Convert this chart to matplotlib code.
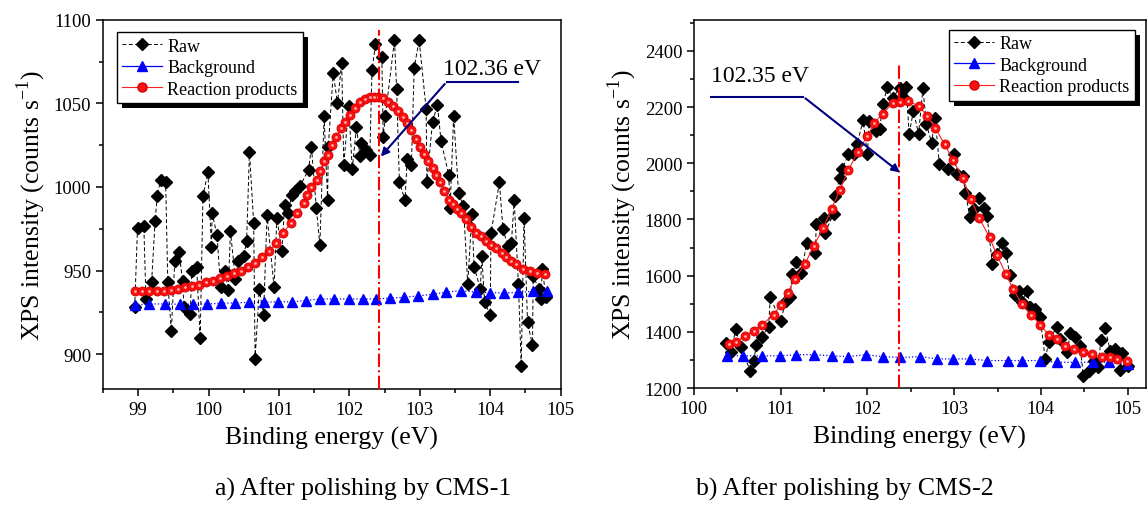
import numpy as np
from matplotlib import pyplot as plt
from matplotlib.patches import Rectangle
from matplotlib.transforms import IdentityTransform

plt.rcParams['font.family'] = ['Liberation Serif', 'DejaVu Serif']
plt.rcParams['mathtext.fontset'] = 'custom'
plt.rcParams['mathtext.rm'] = 'Liberation Serif'

# ---- a) CMS-1 ----
raw1_x = [98.95, 98.99, 99.08, 99.11, 99.19, 99.24, 99.27, 99.32, 99.39, 99.42,
          99.47, 99.52, 99.58, 99.63, 99.65, 99.74, 99.76, 99.83, 99.88, 99.92,
          99.99, 100.04, 100.05, 100.12, 100.17, 100.23, 100.28, 100.31, 100.38, 100.42,
          100.50, 100.54, 100.58, 100.64, 100.66, 100.72, 100.78, 100.83, 100.93, 100.97,
          101.04, 101.08, 101.13, 101.18, 101.23, 101.30, 101.42, 101.46, 101.53, 101.58,
          101.64, 101.69, 101.70, 101.77, 101.83, 101.89, 101.92, 101.99, 102.04, 102.10,
          102.15, 102.17, 102.24, 102.29, 102.32, 102.37, 102.46, 102.48, 102.51, 102.64,
          102.67, 102.71, 102.79, 102.82, 102.88, 102.92, 102.99, 103.09, 103.10, 103.18,
          103.25, 103.30, 103.41, 103.43, 103.48, 103.55, 103.62, 103.68, 103.74, 103.77,
          103.86, 103.88, 103.92, 104.00, 104.01, 104.13, 104.18, 104.25, 104.30, 104.34,
          104.40, 104.44, 104.48, 104.53, 104.60, 104.61, 104.69, 104.72, 104.74, 104.79]
raw1_y = [928, 975.6, 976.6, 933, 943, 979.6, 994.8, 1004.4, 1002.8, 943,
          914, 955.8, 961, 943.8, 928, 924, 950, 952.4, 909.5, 994.8,
          1008.7, 964.3, 984.5, 971, 940, 950, 938.5, 973.6, 944.8, 955.8,
          958.7, 967.7, 1021.2, 978.2, 897.2, 938.9, 923.4, 983, 940, 981.5,
          961.7, 989, 984.5, 995.4, 997.4, 1000.8, 1010.3, 1024.2, 987.5, 965.1,
          1042.5, 992.5, 1024.2, 1068.3, 1050, 1074.2, 1013.3, 1048.4, 1010.7, 1036.1,
          1018.3, 1026.6, 1022.2, 1019.2, 1069.8, 1085.3, 1077.8, 1030.2, 1042.5, 1088,
          1058.9, 1002.8, 992.1, 1016.7, 1013.3, 1071.4, 1088, 1046.4, 1002.8, 1039.1,
          1049, 1027.8, 1007.3, 987.5, 1042.5, 996.4, 988.5, 941.9, 984.1, 952.4,
          938.9, 958.7, 931, 923.4, 972.2, 1002.8, 975, 964.7, 966.3, 992.1,
          941.9, 892.9, 981.5, 919, 905.2, 946.8, 938.9, 933, 951.2, 934]

bg1_x = [98.95, 99.16, 99.38, 99.59, 99.78, 99.98, 100.17, 100.37, 100.58, 100.78,
         100.98, 101.18, 101.38, 101.58, 101.78, 101.99, 102.19, 102.38, 102.58, 102.77,
         102.98, 103.18, 103.37, 103.58, 103.80, 104.00, 104.20, 104.40, 104.61, 104.80]
bg1_y = [929.4, 930, 930, 929.8, 929.8, 930, 930.4, 930.6, 931, 931,
         931.3, 931.3, 932, 933, 933, 933, 933, 933, 933.5, 934,
         934.8, 935.8, 937, 938, 937, 936.8, 936.5, 937, 937.5, 937.7]

fit1_x = [98.96, 99.06, 99.16, 99.26, 99.36, 99.46, 99.56, 99.66, 99.76, 99.86,
          99.96, 100.06, 100.16, 100.26, 100.36, 100.46, 100.56, 100.66, 100.76, 100.86,
          100.96, 101.06, 101.17, 101.26, 101.35, 101.40, 101.46, 101.54, 101.58, 101.64,
          101.69, 101.75, 101.81, 101.88, 101.94, 102.01, 102.08, 102.15, 102.22, 102.29,
          102.35, 102.41, 102.48, 102.55, 102.62, 102.69, 102.76, 102.82, 102.88, 102.94,
          103.00, 103.06, 103.12, 103.18, 103.23, 103.29, 103.35, 103.42, 103.47, 103.53,
          103.59, 103.66, 103.73, 103.80, 103.87, 103.94, 104.01, 104.08, 104.16, 104.23,
          104.30, 104.37, 104.46, 104.56, 104.67, 104.78]
fit1_y = [937.5, 937.5, 937.5, 937.5, 937.5, 938.5, 939, 940, 940.5, 941.5,
          943, 944, 945.5, 947, 948.5, 950, 952, 954.5, 958, 961.5,
          966.5, 972.6, 978.6, 984.5, 990.5, 995.4, 999.8, 1004.4, 1009.3, 1015.3,
          1019.3, 1025.2, 1030.2, 1035.1, 1039.1, 1043, 1047, 1050.6, 1052.6, 1053.6,
          1054, 1054, 1053.4, 1051, 1048.6, 1045.4, 1042, 1038, 1034, 1029,
          1024.2, 1019.6, 1015.3, 1011.3, 1007.3, 1003, 997.8, 992.5, 990, 987,
          984.5, 980.6, 976, 972.6, 970.6, 967.7, 965.3, 963.3, 960.7, 958.2,
          955.8, 953.8, 950.8, 949.8, 948.8, 947.8]

# ---- b) CMS-2 ----
raw2_x = [100.37, 100.43, 100.48, 100.54, 100.65, 100.69, 100.72, 100.78, 100.86, 100.88,
          101.00, 101.06, 101.11, 101.13, 101.18, 101.24, 101.30, 101.40, 101.41, 101.50,
          101.51, 101.61, 101.63, 101.68, 101.71, 101.78, 101.84, 101.88, 101.95, 102.00,
          102.02, 102.10, 102.14, 102.18, 102.23, 102.29, 102.37, 102.41, 102.45, 102.48,
          102.53, 102.59, 102.64, 102.68, 102.74, 102.78, 102.83, 102.93, 103.00, 103.03,
          103.10, 103.13, 103.18, 103.23, 103.29, 103.34, 103.38, 103.44, 103.49, 103.55,
          103.60, 103.64, 103.70, 103.75, 103.78, 103.84, 103.88, 103.93, 103.99, 104.05,
          104.09, 104.18, 104.22, 104.30, 104.34, 104.39, 104.45, 104.49, 104.56, 104.61,
          104.66, 104.69, 104.74, 104.80, 104.86, 104.91, 104.94, 105.00]
raw2_y = [1359, 1327, 1410, 1345, 1262, 1297.6, 1354, 1383, 1418, 1522.6,
          1439.7, 1510.8, 1522.6, 1605.5, 1647, 1611, 1718, 1679, 1783, 1807,
          1753.5, 1818.7, 1883.8, 1949, 1978.5, 2031.8, 2031.8, 2067.4, 2152.6, 2031.8,
          2150, 2114.7, 2120.7, 2212, 2271, 2233, 2266, 2235.5, 2271, 2102.9,
          2185.8, 2105, 2266, 2138.4, 2073, 2162, 1996.3, 1978.5, 2031.8, 1963,
          1955, 1895.6, 1809, 1836.4, 1875.5, 1842.3, 1812.7, 1641, 1676.6, 1718,
          1679, 1603, 1532, 1546, 1508, 1546, 1489.4, 1481, 1454, 1303.5,
          1362.7, 1418, 1374.5, 1327, 1394.7, 1380.5, 1351, 1244, 1262, 1297.6,
          1273.9, 1371, 1413.6, 1333, 1339, 1264.4, 1323.6, 1280]

bg2_x = [100.38, 100.56, 100.78, 100.99, 101.18, 101.38, 101.59, 101.78, 101.98, 102.18,
         102.38, 102.61, 102.80, 102.99, 103.18, 103.38, 103.62, 103.78, 103.99, 104.18,
         104.39, 104.60, 104.78, 105.00]
bg2_y = [1315, 1315, 1315, 1315, 1319, 1319, 1315, 1312, 1319, 1312,
         1309, 1312, 1304, 1304, 1304, 1298, 1298, 1298, 1298, 1292,
         1292, 1292, 1292, 1286]

fit2_x = [100.40, 100.48, 100.59, 100.69, 100.78, 100.92, 101.00, 101.08, 101.16, 101.28,
          101.38, 101.49, 101.59, 101.68, 101.78, 101.89, 102.00, 102.08, 102.18, 102.29,
          102.38, 102.47, 102.59, 102.69, 102.78, 102.89, 102.99, 103.10, 103.19, 103.29,
          103.41, 103.49, 103.60, 103.68, 103.78, 103.89, 103.99, 104.09, 104.18, 104.28,
          104.38, 104.49, 104.59, 104.70, 104.80, 104.88, 104.99]
fit2_y = [1357, 1363, 1386, 1404, 1425, 1461, 1497, 1537, 1588, 1641,
          1706, 1769, 1839, 1904, 1975, 2041, 2097, 2144, 2177, 2215,
          2219, 2221, 2204, 2168, 2127, 2067, 2010, 1947, 1874, 1804,
          1736, 1674, 1605, 1552, 1499, 1461, 1425, 1390, 1374, 1351,
          1339, 1327, 1321, 1309, 1309, 1303, 1295]


def draw(ax, rx, ry, bx, by, fx, fy):
    ax.plot(rx, ry, color='k', ls='--', lw=0.7, dashes=(4, 2.5), marker='D', ms=6,
            mfc='k', mec='k', label='Raw', zorder=3)
    ax.plot(bx, by, color='#0000ff', ls=':', lw=0.9, marker='^', ms=7,
            mfc='#0000ff', mec='#0000ff', zorder=4)
    ax.plot(fx, fy, color='#ff2020', lw=0.8, marker='o', ms=6.5,
            mfc='#ff1010', mec='#d00000', mew=0.6, zorder=5)
    # small highlight on the spheres
    ax.plot(fx, fy, ls='none', marker='o', ms=2, mfc='#ffb0b0', mec='none', zorder=6)
    # legend proxies
    ax.plot([], [], color='#0000ff', lw=0.9, marker='^', ms=7, label='Background')
    ax.plot([], [], color='#ff2020', lw=0.8, marker='o', ms=6.5, mfc='#ff1010',
            mec='#d00000', label='Reaction products')
    ax.tick_params(which='both', direction='out', labelsize=13.5, width=1.1,
                   top=False, right=False)
    ax.tick_params(which='major', length=5)
    ax.tick_params(which='minor', length=3)
    for s in ax.spines.values():
        s.set_linewidth(1.1)
    ax.set_xlabel('Binding energy (eV)', fontsize=18.5, labelpad=6)
    ax.set_ylabel(r'XPS intensity (counts s$^{\mathregular{-1}}$)', fontsize=18.5)


def add_legend(ax, **kw):
    leg = ax.legend(borderaxespad=0, fontsize=13, fancybox=False, edgecolor='k',
                    framealpha=1, handlelength=2.2, handletextpad=0.3,
                    labelspacing=0.25, borderpad=0.3, **kw)
    leg.set_zorder(20)
    return leg


fig = plt.figure(figsize=(11.47, 5.10), dpi=100)

ax1 = fig.add_axes([0.0898, 0.235, 0.399, 0.724])
draw(ax1, raw1_x, raw1_y, bg1_x, bg1_y, fit1_x, fit1_y)
ax1.set_xlim(98.5, 105)
ax1.set_ylim(879, 1100)
ax1.set_xticks([99, 100, 101, 102, 103, 104, 105])
ax1.set_xticks(np.arange(98.5, 105.01, 0.5), minor=True)
ax1.set_yticks([900, 950, 1000, 1050, 1100])
ax1.set_yticks(np.arange(900, 1100, 25), minor=True)
ax1.plot([102.42, 102.42], [879, 1094], color='red', ls='-.', lw=1.5, zorder=7)
ax1.plot([104.40, 103.38], [1062.9, 1062.9], color='#000080', lw=1.5, zorder=8)
ax1.annotate('', xy=(102.42, 1017), xytext=(103.38, 1062.9),
             arrowprops=dict(arrowstyle='-|>', color='#000080', lw=1.5, mutation_scale=12),
             zorder=8)
ax1.text(104.03, 1070.8, '102.36 eV', fontsize=17, ha='center', va='center')
leg1 = add_legend(ax1, loc='upper left', bbox_to_anchor=(0.03, 0.967))

ax2 = fig.add_axes([0.605, 0.237, 0.394, 0.722])
draw(ax2, raw2_x, raw2_y, bg2_x, bg2_y, fit2_x, fit2_y)
ax2.set_xlim(100, 105.21)
ax2.set_ylim(1200, 2510)
ax2.set_xticks([100, 101, 102, 103, 104, 105])
ax2.set_xticks(np.arange(100, 105.01, 0.5), minor=True)
ax2.set_yticks(np.arange(1200, 2401, 200))
ax2.set_yticks(np.arange(1200, 2501, 100), minor=True)
ax2.plot([102.36, 102.36], [1200, 2355], color='red', ls='-.', lw=1.5, zorder=7)
ax2.plot([100.20, 101.26], [2237, 2237], color='#000080', lw=1.5, zorder=8)
ax2.annotate('', xy=(102.40, 1961), xytext=(101.26, 2237),
             arrowprops=dict(arrowstyle='-|>', color='#000080', lw=1.5, mutation_scale=12),
             zorder=8)
ax2.text(100.76, 2312, '102.35 eV', fontsize=17, ha='center', va='center')
leg2 = add_legend(ax2, loc='upper right', bbox_to_anchor=(0.976, 0.973))

fig.text(363 / 1147, 1 - 489 / 510, 'a) After polishing by CMS-1', fontsize=18.5,
         ha='center', va='center')
fig.text(845 / 1147, 1 - 489 / 510, 'b) After polishing by CMS-2', fontsize=18.5,
         ha='center', va='center')

# solid black drop shadow behind each legend box
fig.canvas.draw()
for ax, leg in ((ax1, leg1), (ax2, leg2)):
    bb = leg.get_frame().get_window_extent()
    shadow = Rectangle((bb.x0 + 5, bb.y0 - 5), bb.width, bb.height,
                       transform=IdentityTransform(), facecolor='k', edgecolor='none',
                       zorder=19, clip_on=False)
    ax.add_artist(shadow)

fig.savefig('out.png', dpi=100)
